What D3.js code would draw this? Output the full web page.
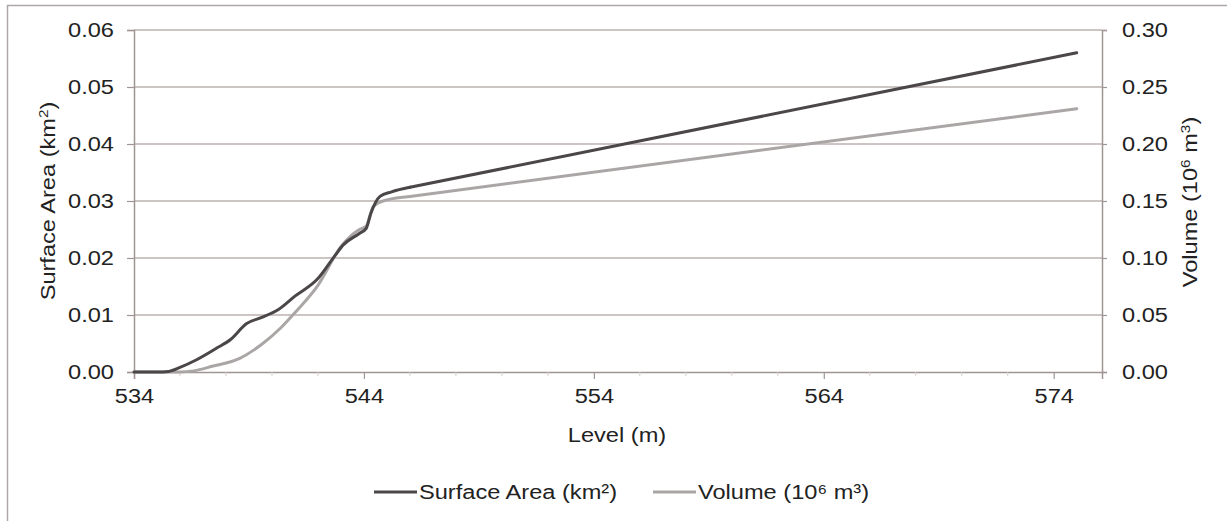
<!DOCTYPE html>
<html>
<head>
<meta charset="utf-8">
<script src="https://cdn.jsdelivr.net/npm/d3@7"></script>
<style>
  body { margin: 0; background: #fff; }
  svg { font-family: "Liberation Sans", Arial, sans-serif; }
</style>
</head>
<body>
<svg width="1227" height="521"></svg>
<script>
// surface area series (km²)
const areaLevels = [534, 535, 535.5, 536, 536.7, 537.6, 538.2, 538.9, 539.5, 540.3, 541, 542, 542.7, 543.1, 543.8, 544.1, 544.3, 544.7, 545.2, 546, 575];
const areaValues = [0, 0, 0.0001, 0.0008, 0.0021, 0.0042, 0.0057, 0.0085, 0.0095, 0.0110, 0.0133, 0.0164, 0.0202, 0.0223, 0.0243, 0.0252, 0.0278, 0.0308, 0.0316, 0.0324, 0.0560];
// volume series (10⁶ m³)
const volLevels = [534, 535, 536, 536.6, 537.4, 538.6, 539.6, 540.4, 541, 542, 543, 543.8, 544.1, 544.4, 545, 546, 575];
const volValues = [0, 0, 0, 0.001, 0.005, 0.012, 0.025, 0.039, 0.052, 0.076, 0.110, 0.125, 0.128, 0.145, 0.151, 0.154, 0.231];

const xTicks = [534, 544, 554, 564, 574];
const leftTicks = [0, 0.01, 0.02, 0.03, 0.04, 0.05, 0.06];
const rightTicks = [0, 0.05, 0.10, 0.15, 0.20, 0.25, 0.30];

const plot = { left: 134, right: 1102, top: 30, bottom: 372 };
const gridColor = "#bcb0b0";
const axisColor = "#a09494";
const darkColor = "#4b4647";
const lightColor = "#aba6a6";
const stretch = 1.18;

const svg = d3.select("svg");

// widen text a bit, the source font runs wide
function widen(sel, f) {
  sel.each(function() {
    const w = this.getComputedTextLength();
    d3.select(this).attr("textLength", w * f).attr("lengthAdjust", "spacingAndGlyphs");
  });
}

// outer frame
svg.append("rect")
  .attr("x", 7.5).attr("y", 5.5)
  .attr("width", 1240).attr("height", 540)
  .attr("fill", "none")
  .attr("stroke", "#b0a6a6")
  .attr("stroke-width", 1.5);

const x = d3.scaleLinear().domain([534, 576.1]).range([plot.left, plot.right]);
const yL = d3.scaleLinear().domain([0, 0.06]).range([plot.bottom, plot.top]);
const yR = d3.scaleLinear().domain([0, 0.30]).range([plot.bottom, plot.top]);

// gridlines
svg.append("g")
  .selectAll("line")
  .data(leftTicks.slice(1))
  .enter()
  .append("line")
  .attr("x1", plot.left).attr("x2", plot.right)
  .attr("y1", d => yL(d)).attr("y2", d => yL(d))
  .attr("stroke", gridColor)
  .attr("stroke-width", 1.5);

// left axis
const yAxisL = d3.axisLeft(yL).tickValues(leftTicks).tickFormat(d3.format(".2f")).tickSize(7).tickPadding(13);
const gL = svg.append("g").attr("transform", "translate(" + plot.left + ",0)").call(yAxisL);

// right axis
const yAxisR = d3.axisRight(yR).tickValues(rightTicks).tickFormat(d3.format(".2f")).tickSize(5).tickPadding(15);
const gR = svg.append("g").attr("transform", "translate(" + plot.right + ",0)").call(yAxisR);

// bottom axis
const xAxis = d3.axisBottom(x).tickValues(xTicks).tickFormat(d3.format("d")).tickSize(7).tickPadding(6);
const gX = svg.append("g").attr("transform", "translate(0," + plot.bottom + ")").call(xAxis);

// minor ticks every 2 m
svg.append("g")
  .selectAll("line")
  .data(d3.range(536, 576, 2).filter(d => !xTicks.includes(d)))
  .enter()
  .append("line")
  .attr("x1", d => x(d)).attr("x2", d => x(d))
  .attr("y1", plot.bottom).attr("y2", plot.bottom + 4)
  .attr("stroke", "#d6cece")
  .attr("stroke-width", 1);

[gL, gR, gX].forEach(g => {
  g.select(".domain").attr("stroke", axisColor).attr("stroke-width", 1.5);
  g.selectAll(".tick line").attr("stroke", axisColor).attr("stroke-width", 1.2);
  g.selectAll(".tick text").attr("fill", "#222").attr("font-size", "20px").attr("font-family", "Liberation Sans, Arial, sans-serif");
  widen(g.selectAll(".tick text"), stretch);
});
gX.selectAll(".tick text").attr("dy", "0.9em");

// series lines: smoothed through the bend, straight on the long upper stretch
const areaData = areaLevels.map((l, i) => ({ level: l, value: areaValues[i] }));
const volData = volLevels.map((l, i) => ({ level: l, value: volValues[i] }));

function drawSeries(data, y, color) {
  const n = data.length;
  svg.append("path")
    .datum(data.slice(0, n - 1))
    .attr("fill", "none")
    .attr("stroke", color)
    .attr("stroke-width", 3)
    .attr("stroke-linecap", "round")
    .attr("d", d3.line().x(d => x(d.level)).y(d => y(d.value)).curve(d3.curveMonotoneX));
  svg.append("path")
    .datum(data.slice(n - 2))
    .attr("fill", "none")
    .attr("stroke", color)
    .attr("stroke-width", 3)
    .attr("stroke-linecap", "round")
    .attr("d", d3.line().x(d => x(d.level)).y(d => y(d.value)));
}
drawSeries(volData, yR, lightColor);
drawSeries(areaData, yL, darkColor);

// axis titles
const leftTitle = svg.append("text")
  .attr("transform", "translate(55,201) rotate(-90)")
  .attr("text-anchor", "middle")
  .attr("font-size", "20px")
  .attr("fill", "#222");
leftTitle.append("tspan").text("Surface Area (km");
leftTitle.append("tspan").attr("baseline-shift", "super").attr("font-size", "13px").text("2");
leftTitle.append("tspan").text(")");
widen(leftTitle, stretch);

const rightTitle = svg.append("text")
  .attr("transform", "translate(1197,202) rotate(-90)")
  .attr("text-anchor", "middle")
  .attr("font-size", "20px")
  .attr("fill", "#222");
rightTitle.append("tspan").text("Volume (10");
rightTitle.append("tspan").attr("baseline-shift", "super").attr("font-size", "13px").text("6");
rightTitle.append("tspan").text(" m");
rightTitle.append("tspan").attr("baseline-shift", "super").attr("font-size", "13px").text("3");
rightTitle.append("tspan").text(")");
widen(rightTitle, stretch);

const xTitle = svg.append("text")
  .attr("x", 617).attr("y", 442)
  .attr("text-anchor", "middle")
  .attr("font-size", "20px")
  .attr("fill", "#222")
  .text("Level (m)");
widen(xTitle, stretch);

// legend
const legendItems = [
  { name: "Surface Area (km²)", color: darkColor, x: 374 },
  { name: "Volume (10⁶ m³)", color: lightColor, x: 653 }
];
const lg = svg.append("g").selectAll("g").data(legendItems).enter().append("g");
lg.append("line")
  .attr("x1", d => d.x).attr("x2", d => d.x + 43)
  .attr("y1", 492).attr("y2", 492)
  .attr("stroke", d => d.color)
  .attr("stroke-width", 3);
const lt = lg.append("text")
  .attr("x", d => d.x + 45).attr("y", 499)
  .attr("font-size", "20px")
  .attr("fill", "#222")
  .text(d => d.name);
widen(lt, stretch);
</script>
</body>
</html>
